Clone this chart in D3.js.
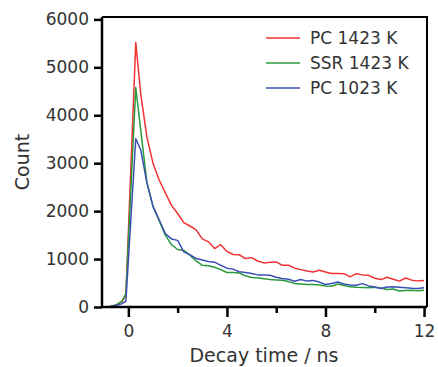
<!DOCTYPE html>
<html lang="en">
<head>
  <meta charset="UTF-8">
  <title>Decay curves</title>
  <style>
    body { margin: 0; background: #fff; }
    svg { display: block; }
    text { font-family: "DejaVu Sans", Verdana, sans-serif; fill: #333; }
  </style>
</head>
<body>
  <svg class="chart"></svg>
  <script src="https://cdn.jsdelivr.net/npm/d3@7"></script>
  <script>
    var w = 438,
        h = 367,
        margin = {top: 17, right: 11, bottom: 60, left: 102};

    // decay time (ns)
    var times = [-1.0, -0.75, -0.5, -0.25, -0.1, 0.3,
      0.5, 0.75, 1.0, 1.25, 1.5, 1.75, 2.0, 2.25, 2.5, 2.75, 3.0, 3.25, 3.5, 3.75,
      4.0, 4.25, 4.5, 4.75, 5.0, 5.25, 5.5, 5.75, 6.0, 6.25, 6.5, 6.75, 7.0, 7.25,
      7.5, 7.75, 8.0, 8.25, 8.5, 8.75, 9.0, 9.25, 9.5, 9.75, 10.0, 10.25, 10.5,
      10.75, 11.0, 11.25, 11.5, 11.75, 12.0];

    var pc1423 = [0, 10, 40, 120, 250, 5520,
      4450, 3550, 3000, 2650, 2380, 2120, 1950, 1760, 1690, 1610, 1420, 1360, 1220, 1300,
      1160, 1095, 1090, 1010, 1030, 960, 920, 935, 940, 870, 870, 810, 780, 750,
      730, 765, 730, 700, 700, 695, 630, 695, 670, 660, 600, 572, 620,
      580, 540, 605, 560, 545, 555];

    var ssr1423 = [0, 10, 40, 130, 280, 4580,
      3700, 2600, 2100, 1800, 1500, 1300, 1200, 1180, 1080, 960, 870, 860, 830, 780,
      720, 720, 710, 650, 615, 610, 590, 572, 565, 557, 530, 490, 480, 470,
      470, 460, 440, 432, 480, 450, 420, 410, 405, 400, 410, 395, 363,
      375, 335, 345, 350, 340, 350];

    var pc1023 = [0, 5, 30, 70, 120, 3510,
      3280, 2600, 2100, 1820, 1530, 1420, 1390, 1150, 1090, 1010, 980, 950, 935, 870,
      810, 790, 735, 720, 700, 670, 665, 662, 620, 595, 580, 537, 572, 540,
      555, 520, 470, 490, 522, 480, 460, 453, 488, 440, 418, 384, 418,
      420, 410, 400, 390, 384, 400];

    var seriesNames = ["PC 1423 K", "SSR 1423 K", "PC 1023 K"];
    var seriesColors = ["#f03232", "#2a9a3c", "#3c50b4"];
    var seriesValues = [pc1423, ssr1423, pc1023];

    var xTicks = [0, 4, 8, 12],
        xMinor = [2, 6, 10],
        yTicks = [0, 1000, 2000, 3000, 4000, 5000, 6000];

    var svg = d3.select(".chart")
      .attr("width", w)
      .attr("height", h);

    var x = d3.scaleLinear()
      .domain([-1.07, 12.12])
      .range([margin.left, w - margin.right]);
    var y = d3.scaleLinear()
      .domain([0, 6050])
      .range([h - margin.bottom, margin.top]);

    var line = d3.line()
      .x(function(d) { return x(d[0]); })
      .y(function(d) { return y(d[1]); });

    // curves
    seriesValues.forEach(function(vals, k) {
      svg.append("path")
        .datum(times.map(function(t, i) { return [t, vals[i]]; }))
        .attr("fill", "none")
        .attr("stroke", seriesColors[k])
        .attr("stroke-width", 1.5)
        .attr("stroke-linejoin", "round")
        .attr("d", line);
    });

    // frame top + right
    svg.append("path")
      .attr("d", "M" + margin.left + "," + margin.top + "H" + (w - margin.right) + "V" + (h - margin.bottom))
      .attr("fill", "none")
      .attr("stroke", "#000")
      .attr("stroke-width", 2);

    // x axis
    var xAxis = svg.append("g")
      .attr("transform", "translate(0," + (h - margin.bottom) + ")")
      .call(d3.axisBottom(x).tickValues(xTicks).tickSize(10).tickPadding(8).tickFormat(d3.format("d")));
    svg.append("g")
      .attr("transform", "translate(0," + (h - margin.bottom) + ")")
      .call(d3.axisBottom(x).tickValues(xMinor).tickSize(6).tickFormat(""))
      .call(function(g) { g.select(".domain").remove(); });

    // y axis
    var yAxis = svg.append("g")
      .attr("transform", "translate(" + margin.left + ",0)")
      .call(d3.axisLeft(y).tickValues(yTicks).tickSize(8).tickPadding(5).tickFormat(d3.format("d")));

    svg.selectAll(".domain")
      .attr("stroke", "#000")
      .attr("stroke-width", 2.5);
    svg.selectAll(".tick line")
      .attr("stroke", "#000")
      .attr("stroke-width", 2.5);
    svg.selectAll(".tick text")
      .attr("font-family", "DejaVu Sans, Verdana, sans-serif")
      .attr("font-size", 17)
      .attr("fill", "#333");
    xAxis.select(".domain").attr("d", "M" + margin.left + ",0H" + (w - margin.right));
    yAxis.select(".domain").attr("d", "M0," + margin.top + "V" + (h - margin.bottom));

    // axis titles
    svg.append("text")
      .attr("x", 264)
      .attr("y", 362)
      .attr("text-anchor", "middle")
      .attr("font-size", 19)
      .text("Decay time / ns");
    svg.append("text")
      .attr("transform", "translate(29," + 162 + ") rotate(-90)")
      .attr("text-anchor", "middle")
      .attr("font-size", 19)
      .text("Count");

    // legend
    var legend = svg.append("g");
    seriesNames.forEach(function(name, k) {
      var ly = 38 + k * 25;
      legend.append("line")
        .attr("x1", 266).attr("x2", 300)
        .attr("y1", ly).attr("y2", ly)
        .attr("stroke", seriesColors[k])
        .attr("stroke-width", 1.5);
      legend.append("text")
        .attr("x", 310)
        .attr("y", ly + 6)
        .attr("font-size", 17)
        .text(name);
    });
  </script>
</body>
</html>
